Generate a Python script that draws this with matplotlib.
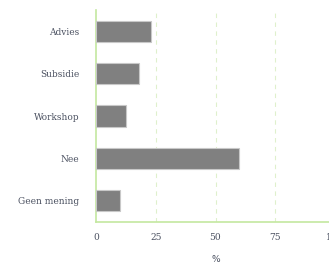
import matplotlib
matplotlib.use("Agg")
import matplotlib.pyplot as plt

categories = ["Advies", "Subsidie", "Workshop", "Nee", "Geen mening"]
values = [23, 18, 12.5, 60, 10]
xticks = [0, 25, 50, 75, 100]

fig = plt.figure(figsize=(3.29, 2.67), dpi=100)
ax = fig.add_axes([96/329, 1-222/267, (335-96)/329, (222-10)/267])
ax.set_clip_on(False)

ypos = list(range(len(categories)))
ax.barh(ypos, values, height=0.5, color="#808080", edgecolor="#c8c8c8", linewidth=0.8, zorder=3)
ax.set_ylim(len(categories)-0.5, -0.5)
ax.set_xlim(0, 100)
ax.set_yticks(ypos)
ax.set_yticklabels(categories, family="DejaVu Serif", fontsize=6.5, color="#4a5060")
ax.set_xticks(xticks)
ax.set_xticklabels([str(t) for t in xticks], family="DejaVu Serif", fontsize=6.5, color="#4a5060")
ax.tick_params(length=0, pad=8)
ax.tick_params(axis="y", pad=12)
ax.set_xlabel("%", family="DejaVu Sans", fontsize=6.5, color="#4a5060", labelpad=9)
for t in [25, 50, 75]:
    ax.axvline(t, color="#dff0cc", linestyle=(0, (4, 4)), linewidth=0.8, zorder=1)
for s in ["top", "right"]:
    ax.spines[s].set_visible(False)
for s in ["left", "bottom"]:
    ax.spines[s].set_color("#c4e8a0")
    ax.spines[s].set_linewidth(1.2)

fig.savefig("out.png", dpi=100)
